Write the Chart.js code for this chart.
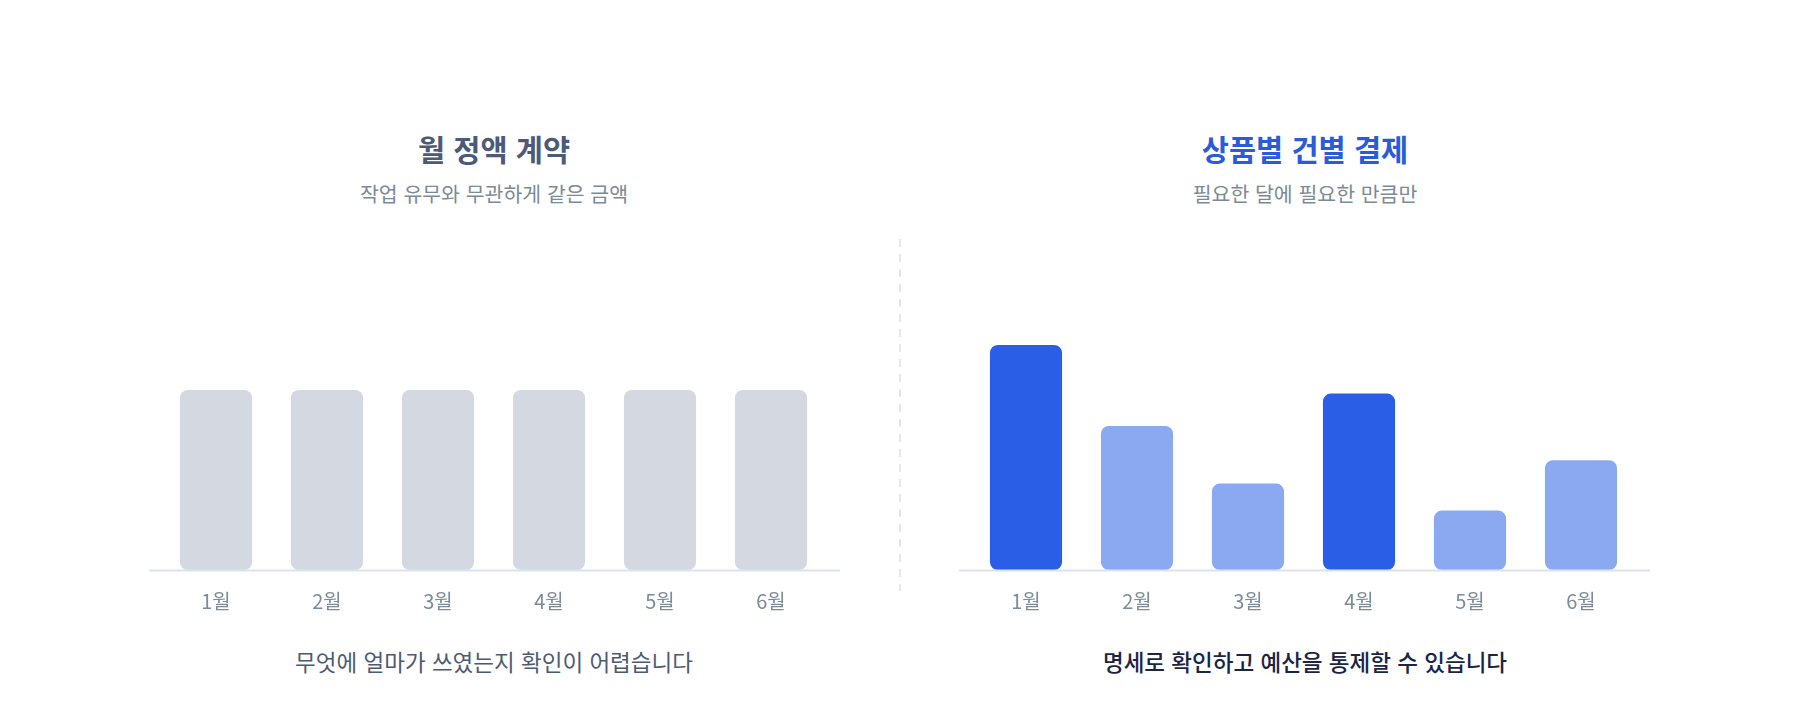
<!DOCTYPE html>
<html lang="ko">
<head>
    <meta charset="UTF-8">
    <title>월 정액 계약 vs 상품별 건별 결제</title>
    <script src="https://cdn.jsdelivr.net/npm/chart.js"></script>
    <style>
        body {
            margin: 0;
            width: 1800px;
            height: 720px;
            background: #ffffff;
            font-family: "Noto Sans CJK KR", "Noto Sans", sans-serif;
            position: relative;
            overflow: hidden;
        }
        .txt {
            position: absolute;
            transform: translate(-50%, -50%);
            white-space: nowrap;
            line-height: 1;
        }
        .title { font-size: 29.5px; font-weight: 700; }
        .sub { font-size: 20.5px; color: #7a8a96; }
        .caption { font-size: 22.5px; }
        .box { position: absolute; top: 210px; width: 730px; height: 410px; }
        /* 가운데 점선 */
        #divider {
            position: absolute;
            left: 899px;
            top: 239px;
            width: 2px;
            height: 352px;
            background: repeating-linear-gradient(to bottom, #e3e8ef 0, #e3e8ef 8px, transparent 8px, transparent 15px);
        }
    </style>
</head>
<body>
    <div class="txt title" style="left:494px; top:149px; color:#4b5a77;">월 정액 계약</div>
    <div class="txt sub" style="left:494px; top:193px;">작업 유무와 무관하게 같은 금액</div>
    <div class="txt title" style="left:1305px; top:149px; color:#2a5bd8;">상품별 건별 결제</div>
    <div class="txt sub" style="left:1305px; top:193px;">필요한 달에 필요한 만큼만</div>

    <div class="box" style="left:130px;"><canvas id="flatChart"></canvas></div>
    <div id="divider"></div>
    <div class="box" style="left:940px;"><canvas id="itemChart"></canvas></div>

    <div class="txt caption" style="left:494px; top:661px; color:#4d5b70;">무엇에 얼마가 쓰였는지 확인이 어렵습니다</div>
    <div class="txt caption" style="left:1305px; top:661px; color:#1b2444; font-weight:500;">명세로 확인하고 예산을 통제할 수 있습니다</div>

    <script>
// 데이터
const months = ['1월', '2월', '3월', '4월', '5월', '6월'];
const flatValues = [100, 100, 100, 100, 100, 100];
const itemValues = [125, 80, 48, 98, 33, 61];
const peakMonths = ['1월', '4월'];
const yMax = 200;

// 바닥선 (차트 영역보다 조금 더 길게)
const baseLine = {
    id: 'baseLine',
    afterDatasetsDraw(chart) {
        const { ctx, chartArea } = chart;
        ctx.save();
        ctx.strokeStyle = '#dbe3ee';
        ctx.lineWidth = 2;
        ctx.beginPath();
        ctx.moveTo(chartArea.left - 11.5, chartArea.bottom + 0.5);
        ctx.lineTo(chartArea.right + 13.5, chartArea.bottom + 0.5);
        ctx.stroke();
        ctx.restore();
    }
};

function makeChart(id, values, colors) {
    const ctx = document.getElementById(id).getContext('2d');
    return new Chart(ctx, {
        type: 'bar',
        data: {
            labels: months,
            datasets: [{
                data: values,
                backgroundColor: colors,
                borderRadius: 8,
                borderSkipped: false,
                barPercentage: 0.65,
                categoryPercentage: 1
            }]
        },
        options: {
            responsive: true,
            maintainAspectRatio: false,
            animation: false,
            layout: { padding: { left: 30.5, right: 33.5, top: 0, bottom: 0 } },
            plugins: {
                legend: { display: false },
                tooltip: { enabled: false }
            },
            scales: {
                x: {
                    grid: { display: false, drawTicks: false },
                    border: { display: false },
                    ticks: {
                        color: '#7b8b97',
                        padding: 19,
                        font: { family: '"Noto Sans CJK KR", sans-serif', size: 20 }
                    },
                    afterFit: (scale) => { scale.height = 50; }
                },
                y: {
                    display: false,
                    min: 0,
                    max: yMax
                }
            }
        },
        plugins: [baseLine]
    });
}

makeChart('flatChart', flatValues, flatValues.map(() => '#d3d8e1'));
makeChart('itemChart', itemValues, months.map(m => peakMonths.includes(m) ? '#2b5ee6' : '#8aa9f1'));
    </script>
</body>
</html>
